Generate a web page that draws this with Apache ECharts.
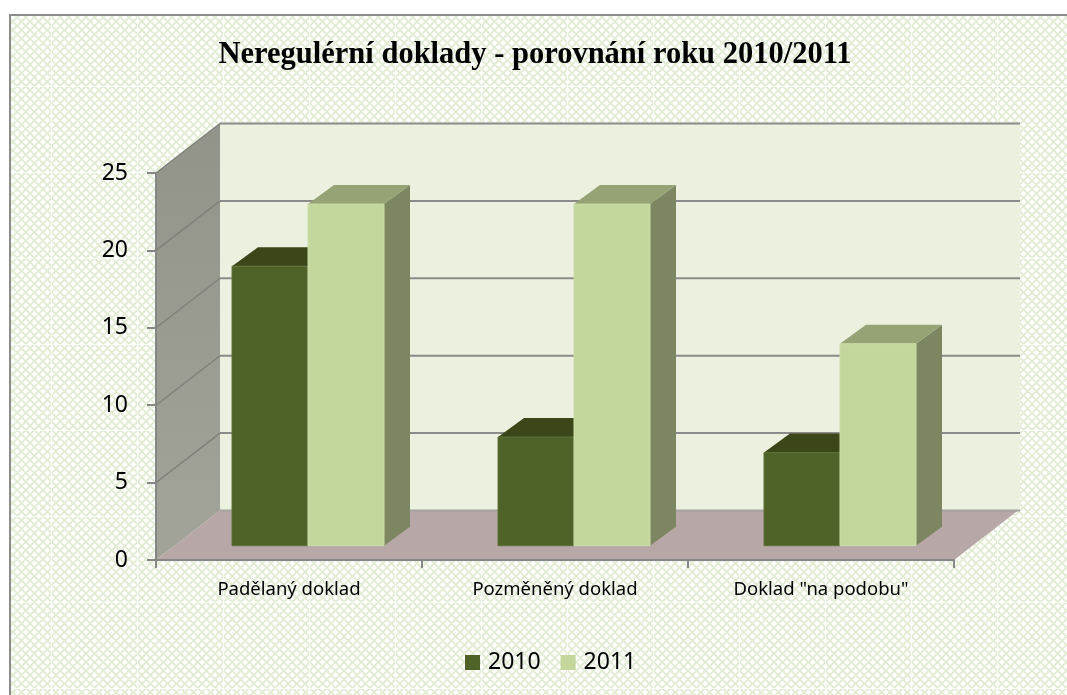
<!DOCTYPE html>
<html><head><meta charset="utf-8">
<style>html,body{margin:0;padding:0;background:#fff}#main{width:1067px;height:695px}</style>
<script src="https://cdn.jsdelivr.net/npm/echarts@6/dist/echarts.min.js"></script>
</head><body><div id="main"></div>
<script>
var categories = ['Padělaný doklad', 'Pozměněný doklad', 'Doklad "na podobu"'];
var values2010 = [18, 7, 6];
var values2011 = [22, 22, 13];
var yTicks = [0, 5, 10, 15, 20, 25];
var titleText = 'Neregulérní doklady - porovnání roku 2010/2011';

function makeTile() {
  var S = 86, P = S / 10, c = document.createElement('canvas');
  c.width = S; c.height = S;
  var g = c.getContext('2d');
  g.fillStyle = '#ffffff'; g.fillRect(0, 0, S, S);
  g.strokeStyle = '#e3ecd5'; g.lineWidth = 2;
  for (var k = -12; k <= 22; k++) {
    g.beginPath(); g.moveTo(k * P, 0); g.lineTo(k * P + S, S); g.stroke();
    g.beginPath(); g.moveTo(k * P, 0); g.lineTo(k * P - S, S); g.stroke();
  }
  g.fillStyle = 'rgba(255,255,255,0.75)';
  g.fillRect(0, 0, S, 1);
  g.fillRect(51, 0, 1, S);
  return c;
}

var BACK = { dx: 64, dy: -49.5 };
var BAR = { gap: 19, width: 76, lift: 14.3, dx: 26, dy: -19, scale: 1.003 };

function renderWalls(params, api) {
  var cs = params.coordSys;
  var L = cs.x, R = cs.x + cs.width;
  var y0 = api.coord([0, 0])[1];
  var yTop = api.coord([0, yTicks[yTicks.length - 1]])[1];
  var dx = BACK.dx, dy = BACK.dy;
  var kids = [
    { type: 'polygon', shape: { points: [[L + dx, yTop + dy], [R + dx + 2, yTop + dy], [R + dx + 2, y0 + dy], [L + dx, y0 + dy]] }, style: { fill: '#ebf1de' } },
    { type: 'polygon', shape: { points: [[L, y0], [R, y0], [R + dx, y0 + dy], [L + dx, y0 + dy]] }, style: { fill: '#b8a7a7' } },
    { type: 'polygon', shape: { points: [[L, yTop], [L + dx, yTop + dy], [L + dx, y0 + dy], [L, y0]] },
      style: { fill: new echarts.graphic.LinearGradient(0, 0, 0, 1, [{ offset: 0, color: '#929489' }, { offset: 1, color: '#a2a499' }]) } }
  ];
  yTicks.forEach(function (t) {
    var y = api.coord([0, t])[1];
    if (t > 0) {
      kids.push({ type: 'line', shape: { x1: L, y1: y, x2: L + dx, y2: y + dy }, style: { stroke: '#7f8179', lineWidth: 1.4 } });
    }
    kids.push({ type: 'line', shape: { x1: L + dx, y1: y + dy, x2: R + dx + 2, y2: y + dy }, style: { stroke: t > 0 ? '#8b8b8b' : '#a3a3a0', lineWidth: 2 } });
  });
  return { type: 'group', children: kids };
}

function barRenderer(seriesIndex, colors) {
  return function (params, api) {
    var cat = api.value(0), val = api.value(1);
    var base = api.coord([cat, 0]);
    var top = api.coord([cat, val]);
    var xa = base[0] + BAR.gap + (seriesIndex - 1) * BAR.width;
    var xb = xa + BAR.width;
    var yb = base[1] - BAR.lift;
    var yt = yb - (base[1] - top[1]) * BAR.scale;
    var dx = BAR.dx, dy = BAR.dy;
    return { type: 'group', children: [
      { type: 'polygon', shape: { points: [[xb, yb], [xb + dx, yb + dy], [xb + dx, yt + dy], [xb, yt]] }, style: { fill: colors.side } },
      { type: 'polygon', shape: { points: [[xa, yt], [xa + dx, yt + dy], [xb + dx, yt + dy], [xb, yt]] }, style: { fill: colors.top } },
      { type: 'rect', shape: { x: xa, y: yt, width: BAR.width, height: yb - yt }, style: { fill: colors.front, stroke: colors.edge, lineWidth: 1 } }
    ] };
  };
}

var axisGray = '#868686';
var chart = echarts.init(document.getElementById('main'), null, { renderer: 'canvas', width: 1067, height: 695 });
chart.setOption({
  animation: false,
  backgroundColor: 'transparent',
  title: { text: titleText, left: 530, top: 35, textAlign: 'center',
    textStyle: { fontFamily: '"Liberation Serif"', fontWeight: 'bold', fontSize: 30.5, color: '#000' } },
  legend: { data: ['2010', '2011'], left: 460, top: 646, itemWidth: 15, itemHeight: 15, itemGap: 20,
    icon: 'rect', textStyle: { fontFamily: '"Noto Sans"', fontSize: 23, color: '#000', padding: [0, 0, 0, 3] } },
  grid: { left: 156, right: 113, top: 173, bottom: 135 },
  xAxis: { type: 'category', data: categories, z: 5,
    axisLine: { lineStyle: { color: axisGray, width: 2 } },
    axisTick: { show: true, length: 8, alignWithLabel: false, lineStyle: { color: axisGray, width: 2 } },
    axisLabel: { fontFamily: '"Noto Sans"', fontSize: 18.5, color: '#000', margin: 20 } },
  yAxis: { type: 'value', min: 0, max: 25, interval: 5, z: 5,
    axisLine: { show: true, lineStyle: { color: axisGray, width: 2 } },
    axisTick: { show: true, length: 9, lineStyle: { color: axisGray, width: 2 } },
    splitLine: { show: false },
    axisLabel: { fontFamily: '"Noto Sans"', fontSize: 23, color: '#000', margin: 28 } },
  graphic: [{ type: 'rect', z: -10, silent: true, shape: { x: 10, y: 15, width: 1200, height: 800 },
    style: { fill: { image: makeTile(), repeat: 'repeat' }, stroke: '#8c8c8c', lineWidth: 2 } }],
  series: [
    { type: 'custom', name: 'walls', z: 1, silent: true, clip: false, renderItem: renderWalls, data: [[0]] , encode: { x: 0 } },
    { type: 'custom', name: '2010', z: 2, clip: false, itemStyle: { color: '#4f6228' },
      renderItem: barRenderer(0, { front: '#4f6228', top: '#3c4719', side: '#3c4719', edge: '#5f7238' }),
      data: values2010.map(function (v, i) { return [i, v]; }), encode: { x: 0, y: 1 } },
    { type: 'custom', name: '2011', z: 3, clip: false, itemStyle: { color: '#c3d69b' },
      renderItem: barRenderer(1, { front: '#c3d69b', top: '#95a375', side: '#7c8762', edge: '#cddda9' }),
      data: values2011.map(function (v, i) { return [i, v]; }), encode: { x: 0, y: 1 } }
  ]
});
</script></body></html>
